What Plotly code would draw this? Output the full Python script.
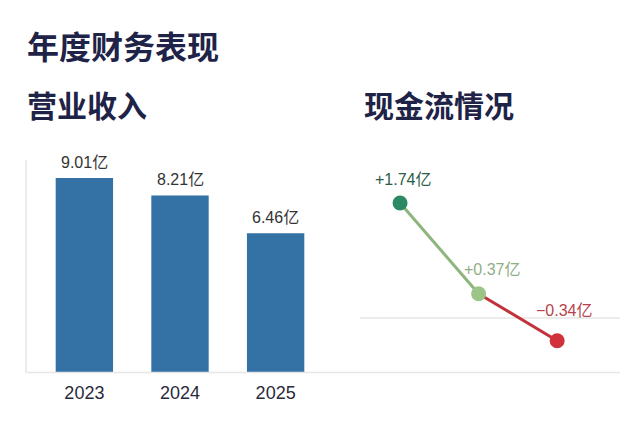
import plotly.graph_objects as go

# 营业收入 (亿)
years = ["2023", "2024", "2025"]
revenue = [9.01, 8.21, 6.46]
revenue_labels = ["9.01亿", "8.21亿", "6.46亿"]

# 现金流 (亿)
cash_flow = [1.74, 0.37, -0.34]
cash_labels = ["+1.74亿", "+0.37亿", "−0.34亿"]

# page has an 8px body margin, so the figure is sized to what is visible
OFF = 8
W, H = 640 - OFF, 428 - OFF
FONT = "Liberation Sans, Noto Sans CJK SC"
TITLE_FONT = "Noto Sans CJK SC"
NAVY = "#1e2347"
BAR = "#3471a4"
point_colors = ["#2b8a63", "#9cc487", "#d0313a"]
seg_colors = ["#8db57c", "#c2323a"]
label_colors = ["#2d5c49", "#8fae86", "#b8434b"]


def px(x):
    # screen column -> paper fraction
    return (x - OFF) / W


def py(y):
    # screen row -> paper fraction
    return 1 - (y - OFF) / H


fig = go.Figure()

# bars
fig.add_trace(go.Bar(
    x=years, y=revenue,
    marker=dict(color=BAR, line_width=0),
    xaxis="x", yaxis="y",
))
for i, (v, lab) in enumerate(zip(revenue, revenue_labels)):
    fig.add_annotation(x=i, y=v, xref="x", yref="y", text=lab,
                       showarrow=False, yanchor="bottom", yshift=5,
                       font=dict(size=16, color="#333333", family=FONT))

# cash-flow segments, coloured per segment
idx = [0, 1, 2]
for i in range(len(cash_flow) - 1):
    fig.add_trace(go.Scatter(
        x=idx[i:i + 2], y=cash_flow[i:i + 2],
        mode="lines", line=dict(color=seg_colors[i], width=3),
        xaxis="x2", yaxis="y2",
    ))

fig.add_trace(go.Scatter(
    x=idx, y=cash_flow, mode="markers",
    marker=dict(size=15, color=point_colors, line_width=0),
    cliponaxis=False,
    xaxis="x2", yaxis="y2",
))

shifts = [(3, 24), (14, 24), (7, 30)]
for i, v in enumerate(cash_flow):
    fig.add_annotation(
        x=idx[i], y=v, xref="x2", yref="y2",
        text=cash_labels[i], showarrow=False,
        xshift=shifts[i][0], yshift=shifts[i][1],
        font=dict(size=16, color=label_colors[i], family=FONT),
    )

# titles
fig.add_annotation(x=px(25), y=py(45), xref="paper", yref="paper",
                   text="<b>年度财务表现</b>", showarrow=False,
                   xanchor="left", yanchor="middle",
                   font=dict(size=32, color=NAVY, family=TITLE_FONT))
fig.add_annotation(x=px(25), y=py(104), xref="paper", yref="paper",
                   text="<b>营业收入</b>", showarrow=False,
                   xanchor="left", yanchor="middle",
                   font=dict(size=30, color=NAVY, family=TITLE_FONT))
fig.add_annotation(x=px(362), y=py(104), xref="paper", yref="paper",
                   text="<b>现金流情况</b>", showarrow=False,
                   xanchor="left", yanchor="middle",
                   font=dict(size=30, color=NAVY, family=TITLE_FONT))

# shared bottom line
fig.add_shape(type="line", xref="paper", yref="paper",
              x0=px(27), x1=px(620), y0=py(372.5), y1=py(372.5),
              line=dict(color="#e6e6e6", width=1.5))

fig.update_layout(
    width=W, height=H,
    margin=dict(l=0, r=0, t=0, b=0),
    paper_bgcolor="white", plot_bgcolor="white",
    showlegend=False,
    bargap=0.4,
    font=dict(family=FONT),
    xaxis=dict(type="category", domain=[px(27), px(333)], range=[-0.6, 2.6],
               showgrid=False, zeroline=False, showline=False,
               ticks="", tickfont=dict(size=18, color="#2a2a3a"),
               ticklabelstandoff=7),
    yaxis=dict(domain=[py(372.5), py(160)], range=[0, 9.85],
               showgrid=False, zeroline=False, showticklabels=False,
               showline=True, linecolor="#ececec", linewidth=1.5),
    xaxis2=dict(domain=[px(360), px(620)], range=[-0.51, 2.8],
                showgrid=False, zeroline=False, showline=False,
                showticklabels=False),
    yaxis2=dict(domain=[py(372.5), py(160)], range=[-0.82, 2.39],
                anchor="x2", showgrid=False, showticklabels=False,
                zeroline=True, zerolinecolor="#ececec", zerolinewidth=1.5,
                showline=False),
)

fig.write_html("out.html")
